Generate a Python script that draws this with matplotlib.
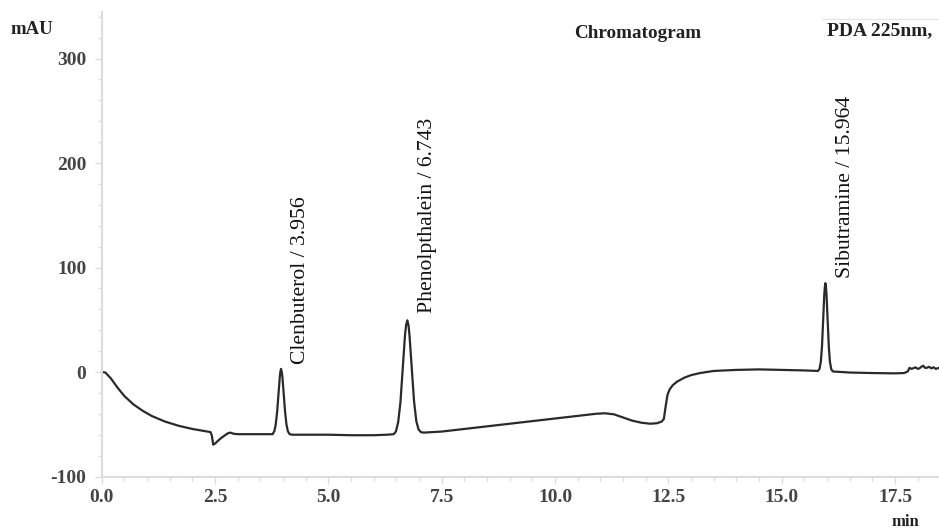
import matplotlib
matplotlib.use("Agg")
import matplotlib.pyplot as plt
from matplotlib.ticker import MultipleLocator, FormatStrFormatter

# ---- data ----
time_min = [
    0.00, 0.08, 0.20, 0.35, 0.50, 0.70, 0.90, 1.10, 1.40, 1.70, 2.00, 2.20, 2.40,
    2.43, 2.46, 2.50, 2.56, 2.64, 2.72, 2.79, 2.84, 2.90, 3.00, 3.30, 3.60, 3.77,
    # Clenbuterol peak
    3.81, 3.84, 3.87, 3.90, 3.93, 3.943, 3.956, 3.970, 3.985, 4.015, 4.045, 4.075,
    4.105, 4.145, 4.20,
    4.60, 5.00, 5.50, 6.00, 6.30, 6.44,
    # Phenolphthalein peak
    6.49, 6.54, 6.59, 6.64, 6.665, 6.69, 6.715, 6.743, 6.77, 6.79, 6.815, 6.84,
    6.89, 6.94, 6.99, 7.04, 7.10,
    7.50, 8.00, 8.50, 9.00, 9.50, 10.00, 10.50, 10.90, 11.10, 11.30, 11.50, 11.70,
    11.90, 12.10, 12.25, 12.35, 12.40, 12.44, 12.48, 12.53, 12.60, 12.70, 12.85,
    13.00, 13.20, 13.50, 14.00, 14.50, 15.00, 15.50, 15.80,
    # Sibutramine peak
    15.834, 15.864, 15.889, 15.914, 15.939, 15.952, 15.964, 15.976, 15.989, 16.014,
    16.039, 16.064, 16.094, 16.13,
    16.50, 17.00, 17.50, 17.70, 17.78, 17.82, 17.86, 17.90, 17.95, 18.00, 18.04,
    18.08, 18.12, 18.16, 18.20, 18.25, 18.30, 18.35, 18.40, 18.47,
]
signal_mau = [
    0.0, -0.5, -6.0, -15.0, -23.0, -31.0, -37.0, -42.0, -47.5, -51.5, -54.5, -56.0, -57.5,
    -61.0, -69.5, -68.5, -66.0, -63.0, -60.5, -58.5, -58.0, -59.0, -59.5, -59.5, -59.5, -59.5,
    -56.5, -50.0, -38.0, -21.0, -4.0, 0.5, 3.0, 0.5, -4.0, -21.0, -38.0, -50.0,
    -56.5, -59.5, -60.0,
    -60.0, -60.0, -60.5, -60.5, -60.0, -59.5,
    -57.0, -48.0, -29.0, 2.0, 19.0, 35.0, 45.0, 49.5, 44.0, 35.0, 19.0, 3.0,
    -28.0, -47.0, -55.0, -57.5, -58.0,
    -57.0, -54.5, -52.0, -49.5, -47.0, -44.5, -42.0, -40.0, -39.5, -40.5, -43.5, -46.5,
    -48.5, -49.5, -49.0, -47.5, -45.0, -33.0, -22.0, -16.5, -12.5, -9.0, -5.5,
    -3.0, -1.0, 1.0, 2.0, 2.5, 2.0, 1.5, 1.0,
    3.0, 10.0, 24.5, 48.6, 74.0, 81.5, 85.0, 81.5, 74.0, 48.6,
    24.5, 9.7, 2.5, 0.5,
    -0.5, -1.0, -1.3, -1.0, 0.5, 4.0, 3.0, 3.5, 4.5, 3.0, 3.5,
    5.0, 6.0, 4.0, 4.0, 5.0, 3.5, 4.5, 3.0, 4.0,
]

peak_labels = ["Clenbuterol / 3.956", "Phenolpthalein / 6.743", "Sibutramine / 15.964"]
peak_label_x = [4.39, 7.18, 16.40]
peak_label_y = [8.0, 56.0, 90.0]

x_ticks = [0.0, 2.5, 5.0, 7.5, 10.0, 12.5, 15.0, 17.5]
y_ticks = [-100, 0, 100, 200, 300]

# ---- figure ----
W, H, DPI = 939, 532, 100
plt.rcParams["font.family"] = ["Liberation Serif", "DejaVu Serif"]
plt.rcParams["axes.unicode_minus"] = False
fig = plt.figure(figsize=(W / DPI, H / DPI), dpi=DPI)
fig.patch.set_facecolor("white")

ax = fig.add_axes([101.7 / W, 1 - 476.5 / H, 1 - 101.7 / W, (476.5 - 12) / H])
ax.plot(time_min, signal_mau, color="#2a2a2a", lw=1.6, solid_joinstyle="round")

ax.set_xlim(0, 18.47)
ax.set_ylim(-100, 344.5)

ax.set_xticks(x_ticks)
ax.set_yticks(y_ticks)
ax.xaxis.set_major_formatter(FormatStrFormatter("%.1f"))
ax.xaxis.set_minor_locator(MultipleLocator(0.5))
ax.yaxis.set_minor_locator(MultipleLocator(20))

spine_col = "#dcdcdc"
for s in ["top", "right"]:
    ax.spines[s].set_visible(False)
for s in ["left", "bottom"]:
    ax.spines[s].set_color(spine_col)
    ax.spines[s].set_linewidth(1.5)

ax.tick_params(axis="both", which="major", length=5, width=1, color=spine_col,
               labelsize=14, labelcolor="#444444", direction="out")
ax.tick_params(axis="both", which="minor", length=3, width=1, color=spine_col,
               direction="out")
ax.tick_params(axis="x", which="major", pad=4)
ax.tick_params(axis="y", which="major", pad=6)
for lbl in ax.get_xticklabels() + ax.get_yticklabels():
    lbl.set_fontweight("bold")

for txt, px, py in zip(peak_labels, peak_label_x, peak_label_y):
    ax.text(px, py, txt, rotation=90, ha="center", va="bottom",
            fontsize=15.6, color="#111111")

# header texts
fig.text(10 / W, 1 - 29 / H, "mAU", ha="left", va="center", fontsize=13.5,
         fontweight="bold", color="#222222")
fig.text(638 / W, 1 - 34 / H, "Chromatogram", ha="center", va="center",
         fontsize=13.8, fontweight="bold", color="#222222")
fig.text(879.5 / W, 1 - 31 / H, "PDA 225nm,", ha="center", va="center",
         fontsize=14, fontweight="bold", color="#222222")
fig.add_artist(plt.Line2D([822 / W, 1.0], [1 - 19 / H, 1 - 19 / H],
                          color="#e6e6e6", lw=1.0, transform=fig.transFigure))
fig.text(905 / W, 1 - 522 / H, "min", ha="center", va="center", fontsize=12,
         fontweight="bold", color="#222222")

fig.savefig("out.png", dpi=DPI, facecolor="white")
